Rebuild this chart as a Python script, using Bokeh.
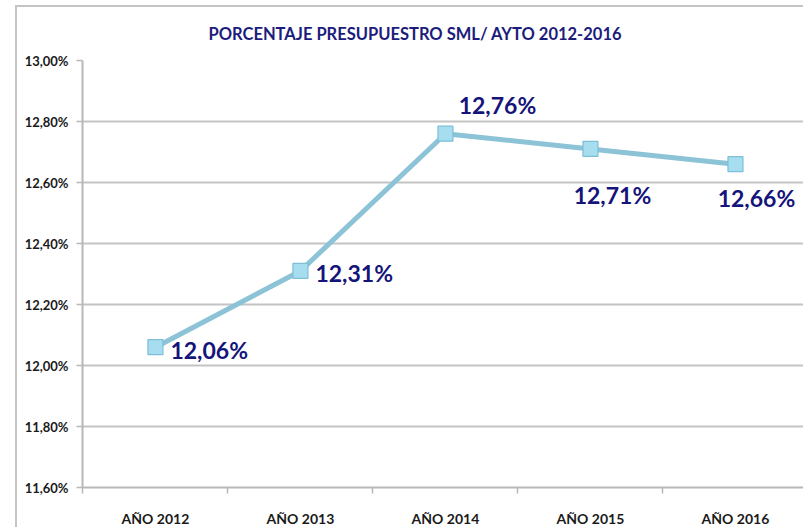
from bokeh.plotting import figure
from bokeh.models import ColumnDataSource, FixedTicker, Range1d
from bokeh.core.properties import value
from bokeh.embed import file_html
from bokeh.resources import INLINE

categories = ["AÑO 2012", "AÑO 2013", "AÑO 2014", "AÑO 2015", "AÑO 2016"]
percentages = [12.06, 12.31, 12.76, 12.71, 12.66]
y_ticks = [11.6, 11.8, 12.0, 12.2, 12.4, 12.6, 12.8, 13.0]
title_text = "PORCENTAJE PRESUPUESTRO SML/ AYTO 2012-2016"

# label placement (styles)
lab_dx = [15, 15, 52, 22, 21]
lab_dy = [3, 2, -29, 46, 34]
lab_align = ["left", "left", "center", "center", "center"]

xs = list(range(len(categories)))
labels = [f"{v:.2f}".replace(".", ",") + "%" for v in percentages]

src = ColumnDataSource(dict(x=xs, y=percentages, lab=labels, dx=lab_dx, dy=lab_dy, al=lab_align))

p = figure(width=788, height=522, output_backend="svg", toolbar_location=None,
           x_range=Range1d(-0.503, 4.483), y_range=Range1d(11.6, 13.0),
           min_border_left=65, min_border_right=0, min_border_top=52, min_border_bottom=37,
           title=title_text)
p.margin = (5, 0, 0, 15)
p.styles = {"border-left": "2px solid #c4c4c4", "border-top": "2px solid #c4c4c4"}
p.outline_line_color = None
p.background_fill_color = "white"
p.border_fill_color = "white"

p.title.align = "left"
p.title.offset = 126
p.title.vertical_align = "middle"
p.title.text_font = "Lato"
p.title.text_font_style = "bold"
p.title.text_font_size = "16.5px"
p.title.text_color = "#1c1c7c"
p.title.standoff = 31

# grid
p.xgrid.grid_line_color = None
p.ygrid.grid_line_color = "#c4c4c4"
p.ygrid.grid_line_width = 2
p.yaxis.ticker = FixedTicker(ticks=y_ticks)
p.ygrid.ticker = FixedTicker(ticks=y_ticks)

# y axis
p.yaxis.major_label_overrides = {t: f"{t:.2f}".replace(".", ",") + "%" for t in y_ticks}
p.yaxis.axis_line_color = "#b8b8b8"
p.yaxis.axis_line_width = 2
p.yaxis.major_tick_line_color = "#b8b8b8"
p.yaxis.major_tick_line_width = 1.5
p.yaxis.major_tick_out = 6
p.yaxis.major_tick_in = 0
p.yaxis.minor_tick_line_color = None
p.yaxis.major_label_text_font = "Lato"
p.yaxis.major_label_text_font_style = "bold"
p.yaxis.major_label_text_font_size = "13px"
p.yaxis.major_label_text_color = "#1a1a1a"
p.yaxis.major_label_standoff = 8

# x axis
p.xaxis.ticker = FixedTicker(ticks=xs, minor_ticks=[-0.5, 0.5, 1.5, 2.5, 3.5, 4.5])
p.xaxis.major_label_overrides = {i: c for i, c in enumerate(categories)}
p.xaxis.axis_line_color = "#b8b8b8"
p.xaxis.axis_line_width = 2
p.xaxis.major_tick_line_color = None
p.xaxis.major_tick_out = 0
p.xaxis.major_tick_in = 0
p.xaxis.minor_tick_line_color = "#b8b8b8"
p.xaxis.minor_tick_line_width = 1.5
p.xaxis.minor_tick_out = 6
p.xaxis.minor_tick_in = 0
p.xaxis.major_label_text_font = "Lato"
p.xaxis.major_label_text_font_style = "bold"
p.xaxis.major_label_text_font_size = "14px"
p.xaxis.major_label_text_color = "#1a1a1a"
p.xaxis.major_label_standoff = 16

# series
p.line("x", "y", source=src, line_color="#8cc3d6", line_width=5)
p.scatter("x", "y", source=src, marker="square", size=15,
          fill_color="#a6def0", line_color="#7dbfd6", line_width=1.2)

p.text("x", "y", text="lab", source=src, x_offset="dx", y_offset="dy", text_align="al",
       text_baseline="middle", text_font=value("Lato"), text_font_style="bold",
       text_font_size="23px", text_color="#14147a")

open("out.html", "w").write(file_html(p, INLINE))
